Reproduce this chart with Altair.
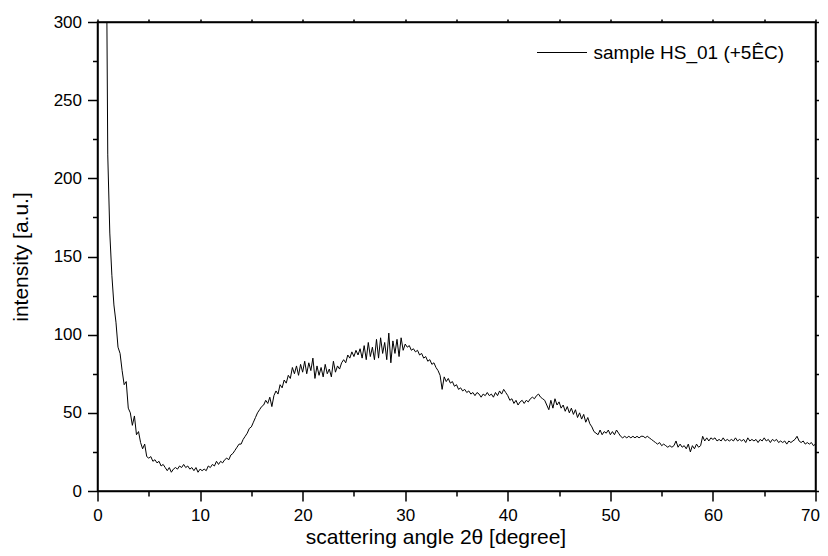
import altair as alt
import numpy as np
import pandas as pd

# scattering angle grid start / step (degree) and intensity readings
x_start = 0.8
x_step = 0.2
intensity = [
    420, 215, 165, 138, 119, 108, 92, 88, 77, 68,
    70, 53, 50, 42, 48, 36, 38, 31, 27, 30,
    22, 21, 22, 19, 20, 18, 19, 16, 17, 15,
    13, 15, 12, 14, 15, 14, 16, 15, 17, 15,
    16, 14, 15, 13, 15, 12, 14, 13, 14, 13,
    16, 15, 17, 16, 19, 17, 19, 18, 20, 21,
    20, 23, 24, 26, 28, 30, 30, 33, 35, 37,
    40, 41, 44, 47, 50, 52, 54, 55, 58, 56,
    60, 54, 61, 64, 62, 68, 66, 71, 69, 74,
    72, 79, 75, 80, 74, 81, 76, 83, 75, 82,
    77, 85, 72, 80, 74, 79, 73, 81, 75, 78,
    73, 83, 76, 80, 78, 82, 84, 82, 87, 85,
    89, 86, 90, 87, 91, 85, 93, 84, 95, 86,
    92, 84, 97, 85, 98, 88, 95, 84, 101, 82,
    96, 88, 97, 86, 98, 90, 94, 92, 93, 90,
    91, 89, 90, 87, 88, 85, 86, 83, 84, 81,
    82, 79, 77, 74, 65, 73, 70, 72, 69, 70,
    67, 68, 65, 66, 64, 65, 63, 64, 62, 63,
    61, 63, 62, 60, 62, 61, 63, 61, 62, 60,
    63, 61, 64, 62, 65, 63, 61, 58, 59, 56,
    58, 55, 57, 58, 56, 58, 57, 59, 60, 59,
    61, 62, 60, 59, 58, 55, 52, 58, 53, 59,
    55, 57, 53, 55, 51, 54, 50, 53, 49, 52,
    47, 50, 46, 49, 44, 47, 43, 41, 38, 37,
    36, 39, 36, 38, 37, 39, 36, 38, 36, 39,
    37, 35, 34, 35, 34, 35, 34, 35, 34, 35,
    34, 35, 35, 34, 35, 34, 33, 32, 31, 30,
    31, 29, 30, 29, 28, 29, 28, 29, 32, 28,
    30, 28, 29, 27, 30, 25, 29, 27, 30, 28,
    29, 35, 32, 34, 32, 34, 33, 34, 32, 33,
    32, 34, 32, 33, 32, 33, 32, 34, 32, 33,
    32, 33, 31, 34, 32, 33, 32, 33, 31, 33,
    32, 34, 32, 33, 31, 33, 32, 33, 31, 32,
    31, 32, 30, 32, 31, 32, 33, 35, 32, 31,
    32, 30, 31, 30, 31, 29, 30,
]
series_name = "sample HS_01 (+5ÊC)"

x_ticks = [0, 5, 10, 15, 20, 25, 30, 35, 40, 45, 50, 55, 60, 65, 70]
y_ticks = [0, 25, 50, 75, 100, 125, 150, 175, 200, 225, 250, 275, 300]

angles = np.round(x_start + x_step * np.arange(len(intensity)), 1)
df = pd.DataFrame({"angle": angles, "intensity": intensity, "series": series_name})

FONT = "Liberation Sans"
xscale = alt.Scale(domain=[0, 70], nice=False, zero=False)
yscale = alt.Scale(domain=[0, 300], nice=False)

common_axis = dict(
    domainColor="black", domainWidth=1.5, tickColor="black", tickWidth=1.5,
    labelFont=FONT, labelFontSize=17, labelColor="black",
    titleFont=FONT, titleFontSize=21, titleFontWeight="normal", titleColor="black",
    grid=False,
)

line = alt.Chart(df).mark_line(strokeWidth=1, clip=True, interpolate="linear", color="black").encode(
    x=alt.X("angle:Q", scale=xscale, axis=alt.Axis(
        orient="bottom", values=x_ticks, title="scattering angle 2θ [degree]",
        labelExpr="datum.value % 10 === 0 ? datum.label : ''",
        tickSize={"condition": {"test": "datum.value % 10 === 0", "value": 10}, "value": 5},
        labelAlign={"condition": {"test": "datum.value === 70", "value": "right"}, "value": "center"},
        labelOffset={"condition": {"test": "datum.value === 70", "value": 4}, "value": 0},
        labelPadding=6, titleX=338, titleY=52, titleBaseline="alphabetic",
        labelFlush=False, **common_axis)),
    y=alt.Y("intensity:Q", scale=yscale, axis=alt.Axis(
        orient="left", values=y_ticks, title="intensity [a.u.]",
        labelExpr="datum.value % 50 === 0 ? datum.label : ''",
        tickSize={"condition": {"test": "datum.value % 50 === 0", "value": 10}, "value": 5},
        labelPadding=6, titlePadding=22, labelFlush=False, **common_axis)),
    color=alt.Color("series:N", scale=alt.Scale(range=["black"]), legend=alt.Legend(
        title=None, orient="none", legendX=439, legendY=5, symbolType="stroke",
        symbolSize=2500, symbolStrokeWidth=1, symbolStrokeColor="black",
        labelFont=FONT, labelFontSize=19, labelColor="black", labelOffset=6,
        padding=0, labelLimit=400)),
)

frame = alt.Chart(df).mark_point(opacity=0).encode(
    x=alt.X("angle:Q", scale=xscale, axis=alt.Axis(
        orient="top", values=x_ticks, labels=False, title=None, tickSize=3,
        domainColor="black", domainWidth=1.5, tickColor="black", tickWidth=1.5, grid=False)),
    y=alt.Y("intensity:Q", scale=yscale, axis=alt.Axis(
        orient="right", values=y_ticks, labels=False, title=None, tickSize=3,
        domainColor="black", domainWidth=1.5, tickColor="black", tickWidth=1.5, grid=False)),
)

chart = alt.layer(line, frame).resolve_axis(x="independent", y="independent").properties(
    width=718, height=469,
    autosize=alt.AutoSizeParams(type="none"),
    padding={"left": 89.5, "top": 14, "right": 4.5, "bottom": 57},
).configure_view(stroke="black", strokeWidth=1.5)

chart.save("out.html", embed_options={"renderer": "svg", "actions": False})
